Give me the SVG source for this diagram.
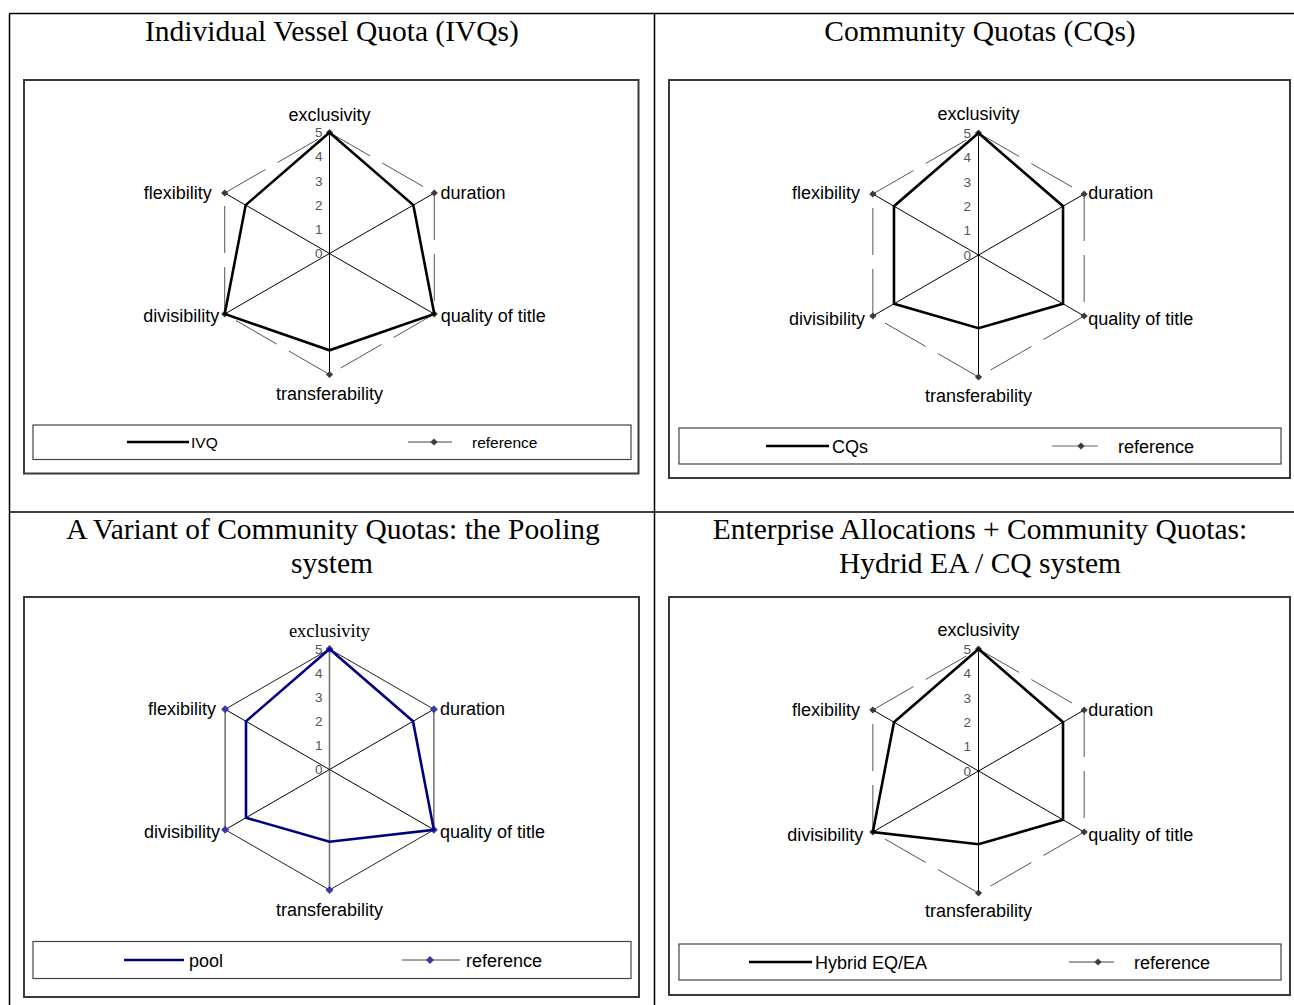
<svg xmlns="http://www.w3.org/2000/svg" width="1294" height="1005" viewBox="0 0 1294 1005">
  <style>
    .title { font-family: "Liberation Serif", "Times New Roman", serif; font-size: 29.5px; text-anchor: middle; fill: #000; }
    .lbl { font-family: "Liberation Sans", Arial, sans-serif; font-size: 18px; fill: #000; }
    .lbl-serif { font-family: "Liberation Serif", "Times New Roman", serif; font-size: 18.5px; fill: #000; }
    .mid { text-anchor: middle; }
    .end { text-anchor: end; }
    .tick { font-family: "Liberation Sans", Arial, sans-serif; font-size: 13.5px; fill: #555; text-anchor: end; }
    .leg { font-family: "Liberation Sans", Arial, sans-serif; font-size: 18px; fill: #000; }
    .leg-sm { font-size: 15.5px; }
    .grid { stroke: #000; stroke-width: 1; fill: none; }
    .table { stroke: #000; stroke-width: 1.5; fill: none; }
    .frame { fill: none; stroke: #3a3a3a; stroke-width: 2; }
    .legbox { fill: none; stroke: #444; stroke-width: 1.2; }
    .ref { stroke: #555; stroke-width: 1; stroke-dasharray: 47 14; fill: none; marker-start: url(#dia); }
    .ref-solid { stroke: #222; stroke-width: 1; fill: none; marker-start: url(#dia-blue); }
    .ref-solid-v { stroke: #777; stroke-width: 1.6; }
    .series { stroke: #000; stroke-width: 2.6; fill: none; stroke-linejoin: miter; }
    .navy { stroke: #000080; }
  </style>
  <defs>
    <marker id="dia" viewBox="-5 -5 10 10" markerWidth="10" markerHeight="10" markerUnits="userSpaceOnUse" refX="0" refY="0" overflow="visible">
      <path d="M0,-3.6 L3.6,0 L0,3.6 L-3.6,0 Z" fill="#3c3c3c" stroke="none"/>
    </marker>
    <marker id="dia-blue" viewBox="-5 -5 10 10" markerWidth="10" markerHeight="10" markerUnits="userSpaceOnUse" refX="0" refY="0" overflow="visible">
      <path d="M0,-4 L4,0 L0,4 L-4,0 Z" fill="#3a3aa8" stroke="none"/>
    </marker>
    <path id="dmk" d="M0,-3.6 L3.6,0 L0,3.6 L-3.6,0 Z" fill="#3c3c3c"/>
    <path id="dmk-blue" d="M0,-4 L4,0 L0,4 L-4,0 Z" fill="#3a3aa8"/>
  </defs>

  <!-- table rules -->
  <g id="table">
    <line class="table" x1="9.5" y1="13.5" x2="1294" y2="13.5"/>
    <line class="table" x1="9.5" y1="13.5" x2="9.5" y2="1005"/>
    <line class="table" x1="654.5" y1="13.5" x2="654.5" y2="1005"/>
    <line class="table" x1="9.5" y1="512" x2="1294" y2="512"/>
  </g>

  <!-- titles -->
  <g id="titles">
    <text class="title" x="332" y="41">Individual Vessel Quota (IVQs)</text>
    <text class="title" x="980" y="41">Community Quotas (CQs)</text>
    <text class="title" x="333" y="539">A Variant of Community Quotas: the Pooling</text>
    <text class="title" x="332" y="573">system</text>
    <text class="title" x="980" y="539">Enterprise Allocations + Community Quotas:</text>
    <text class="title" x="980" y="573">Hydrid EA / CQ system</text>
  </g>

  <!-- IVQ radar chart -->
  <g id="chart-ivq">
    <rect class="frame" x="24" y="80" width="614.5" height="393.5"/>
    <g transform="translate(329.5,253.5)">
      <g class="grid">
        <line x1="0" y1="0" x2="0" y2="-121"/>
        <line x1="0" y1="0" x2="104.79" y2="-60.5"/>
        <line x1="0" y1="0" x2="104.79" y2="60.5"/>
        <line x1="0" y1="0" x2="0" y2="121"/>
        <line x1="0" y1="0" x2="-104.79" y2="60.5"/>
        <line x1="0" y1="0" x2="-104.79" y2="-60.5"/>
      </g>
      <g class="ticks">
        <text class="tick" x="-7" y="-116.3">5</text>
        <text class="tick" x="-7" y="-92.1">4</text>
        <text class="tick" x="-7" y="-67.9">3</text>
        <text class="tick" x="-7" y="-43.7">2</text>
        <text class="tick" x="-7" y="-19.5">1</text>
        <text class="tick" x="-7" y="4.7">0</text>
      </g>
      <g class="reference">
        <line class="ref" x1="0" y1="-121" x2="104.79" y2="-60.5"/>
        <line class="ref" x1="104.79" y1="-60.5" x2="104.79" y2="60.5"/>
        <line class="ref" x1="104.79" y1="60.5" x2="0" y2="121"/>
        <line class="ref" x1="0" y1="121" x2="-104.79" y2="60.5"/>
        <line class="ref" x1="-104.79" y1="60.5" x2="-104.79" y2="-60.5"/>
        <line class="ref" x1="-104.79" y1="-60.5" x2="0" y2="-121"/>
      </g>
      <polygon class="series" points="0,-121 83.83,-48.4 104.79,60.5 0,96.8 -104.79,60.5 -83.83,-48.4"/>
      <text class="lbl mid" x="0" y="-133">exclusivity</text>
      <text class="lbl" x="111" y="-54.7">duration</text>
      <text class="lbl" x="111.2" y="68.2">quality of title</text>
      <text class="lbl mid" x="0" y="146">transferability</text>
      <text class="lbl end" x="-110.2" y="68.2">divisibility</text>
      <text class="lbl end" x="-117.8" y="-54.8">flexibility</text>
    </g>
    <g class="legend">
      <rect class="legbox" x="33" y="425" width="598" height="34.5"/>
      <line x1="127" y1="442" x2="189" y2="442" stroke="#000" stroke-width="2.6"/>
      <text class="leg leg-sm" x="191" y="447.5">IVQ</text>
      <line x1="408" y1="442" x2="452" y2="442" stroke="#444" stroke-width="1"/>
      <use href="#dmk" x="434" y="442"/>
      <text class="leg leg-sm" x="472" y="447.5">reference</text>
    </g>
  </g>

  <!-- CQ radar chart -->
  <g id="chart-cq">
    <rect class="frame" x="669" y="80" width="621" height="398"/>
    <g transform="translate(978.5,255)">
      <g class="grid">
        <line x1="0" y1="0" x2="0" y2="-122"/>
        <line x1="0" y1="0" x2="105.65" y2="-61"/>
        <line x1="0" y1="0" x2="105.65" y2="61"/>
        <line x1="0" y1="0" x2="0" y2="122"/>
        <line x1="0" y1="0" x2="-105.65" y2="61"/>
        <line x1="0" y1="0" x2="-105.65" y2="-61"/>
      </g>
      <g class="ticks">
        <text class="tick" x="-7.5" y="-117.3">5</text>
        <text class="tick" x="-7.5" y="-92.9">4</text>
        <text class="tick" x="-7.5" y="-68.5">3</text>
        <text class="tick" x="-7.5" y="-44.1">2</text>
        <text class="tick" x="-7.5" y="-19.7">1</text>
        <text class="tick" x="-7.5" y="4.7">0</text>
      </g>
      <g class="reference">
        <line class="ref" x1="0" y1="-122" x2="105.65" y2="-61"/>
        <line class="ref" x1="105.65" y1="-61" x2="105.65" y2="61"/>
        <line class="ref" x1="105.65" y1="61" x2="0" y2="122"/>
        <line class="ref" x1="0" y1="122" x2="-105.65" y2="61"/>
        <line class="ref" x1="-105.65" y1="61" x2="-105.65" y2="-61"/>
        <line class="ref" x1="-105.65" y1="-61" x2="0" y2="-122"/>
      </g>
      <polygon class="series" points="0,-122 84.52,-48.8 84.52,48.8 0,73.2 -84.52,48.8 -84.52,-48.8"/>
      <text class="lbl mid" x="0" y="-135">exclusivity</text>
      <text class="lbl" x="109.8" y="-56">duration</text>
      <text class="lbl" x="109.8" y="69.5">quality of title</text>
      <text class="lbl mid" x="0" y="146.5">transferability</text>
      <text class="lbl end" x="-113.5" y="69.5">divisibility</text>
      <text class="lbl end" x="-118.5" y="-56">flexibility</text>
    </g>
    <g class="legend">
      <rect class="legbox" x="679" y="428" width="602" height="36"/>
      <line x1="766" y1="446" x2="829" y2="446" stroke="#000" stroke-width="2.6"/>
      <text class="leg" x="832" y="452.5">CQs</text>
      <line x1="1052" y1="446" x2="1098" y2="446" stroke="#999" stroke-width="1.3"/>
      <use href="#dmk" x="1081" y="446"/>
      <text class="leg" x="1118" y="452.5">reference</text>
    </g>
  </g>

  <!-- Pooling radar chart -->
  <g id="chart-pool">
    <rect class="frame" x="24" y="597" width="615" height="400"/>
    <g transform="translate(329.5,769.5)">
      <g class="grid">
        <line x1="0" y1="0" x2="0" y2="-120.5" class="ref-solid-v"/>
        <line x1="0" y1="0" x2="104.36" y2="-60.25"/>
        <line x1="0" y1="0" x2="104.36" y2="60.25"/>
        <line x1="0" y1="0" x2="0" y2="120.5" class="ref-solid-v"/>
        <line x1="0" y1="0" x2="-104.36" y2="60.25"/>
        <line x1="0" y1="0" x2="-104.36" y2="-60.25"/>
      </g>
      <g class="ticks">
        <text class="tick" x="-7" y="-115.8">5</text>
        <text class="tick" x="-7" y="-91.7">4</text>
        <text class="tick" x="-7" y="-67.6">3</text>
        <text class="tick" x="-7" y="-43.5">2</text>
        <text class="tick" x="-7" y="-19.4">1</text>
        <text class="tick" x="-7" y="4.7">0</text>
      </g>
      <g class="reference">
        <line class="ref-solid" x1="0" y1="-120.5" x2="104.36" y2="-60.25"/>
        <line class="ref-solid ref-solid-v" x1="104.36" y1="-60.25" x2="104.36" y2="60.25"/>
        <line class="ref-solid" x1="104.36" y1="60.25" x2="0" y2="120.5"/>
        <line class="ref-solid" x1="0" y1="120.5" x2="-104.36" y2="60.25"/>
        <line class="ref-solid ref-solid-v" x1="-104.36" y1="60.25" x2="-104.36" y2="-60.25"/>
        <line class="ref-solid" x1="-104.36" y1="-60.25" x2="0" y2="-120.5"/>
      </g>
      <polygon class="series navy" points="0,-120.5 83.49,-48.2 104.36,60.25 0,72.3 -83.49,48.2 -83.49,-48.2"/>
      <text class="lbl-serif mid" x="0" y="-132.8">exclusivity</text>
      <text class="lbl" x="110.5" y="-54.5">duration</text>
      <text class="lbl" x="110.5" y="68.8">quality of title</text>
      <text class="lbl mid" x="0" y="146.5">transferability</text>
      <text class="lbl end" x="-109.5" y="68.8">divisibility</text>
      <text class="lbl end" x="-113.5" y="-54.5">flexibility</text>
    </g>
    <g class="legend">
      <rect class="legbox" x="33" y="941.5" width="598" height="37"/>
      <line x1="124" y1="960" x2="184" y2="960" stroke="#000080" stroke-width="2.6"/>
      <text class="leg" x="189" y="966.5">pool</text>
      <line x1="402" y1="960" x2="460" y2="960" stroke="#444" stroke-width="1"/>
      <use href="#dmk-blue" x="430" y="960"/>
      <text class="leg" x="466" y="966.5">reference</text>
    </g>
  </g>

  <!-- Hybrid EA / CQ radar chart -->
  <g id="chart-hybrid">
    <rect class="frame" x="669" y="597" width="621" height="398"/>
    <g transform="translate(978.5,771)">
      <g class="grid">
        <line x1="0" y1="0" x2="0" y2="-122"/>
        <line x1="0" y1="0" x2="105.65" y2="-61"/>
        <line x1="0" y1="0" x2="105.65" y2="61"/>
        <line x1="0" y1="0" x2="0" y2="122"/>
        <line x1="0" y1="0" x2="-105.65" y2="61"/>
        <line x1="0" y1="0" x2="-105.65" y2="-61"/>
      </g>
      <g class="ticks">
        <text class="tick" x="-7.5" y="-117.3">5</text>
        <text class="tick" x="-7.5" y="-92.9">4</text>
        <text class="tick" x="-7.5" y="-68.5">3</text>
        <text class="tick" x="-7.5" y="-44.1">2</text>
        <text class="tick" x="-7.5" y="-19.7">1</text>
        <text class="tick" x="-7.5" y="4.7">0</text>
      </g>
      <g class="reference">
        <line class="ref" x1="0" y1="-122" x2="105.65" y2="-61"/>
        <line class="ref" x1="105.65" y1="-61" x2="105.65" y2="61"/>
        <line class="ref" x1="105.65" y1="61" x2="0" y2="122"/>
        <line class="ref" x1="0" y1="122" x2="-105.65" y2="61"/>
        <line class="ref" x1="-105.65" y1="61" x2="-105.65" y2="-61"/>
        <line class="ref" x1="-105.65" y1="-61" x2="0" y2="-122"/>
      </g>
      <polygon class="series" points="0,-122 84.52,-48.8 84.52,48.8 0,73.2 -105.65,61 -84.52,-48.8"/>
      <text class="lbl mid" x="0" y="-135.3">exclusivity</text>
      <text class="lbl" x="109.8" y="-55">duration</text>
      <text class="lbl" x="109.8" y="70">quality of title</text>
      <text class="lbl mid" x="0" y="145.7">transferability</text>
      <text class="lbl end" x="-115.2" y="70">divisibility</text>
      <text class="lbl end" x="-118.5" y="-55">flexibility</text>
    </g>
    <g class="legend">
      <rect class="legbox" x="679" y="944" width="602" height="36"/>
      <line x1="749" y1="962" x2="812" y2="962" stroke="#000" stroke-width="2.6"/>
      <text class="leg" x="815" y="968.5">Hybrid EQ/EA</text>
      <line x1="1069" y1="962" x2="1114" y2="962" stroke="#444" stroke-width="1"/>
      <use href="#dmk" x="1098" y="962"/>
      <text class="leg" x="1134" y="968.5">reference</text>
    </g>
  </g>
</svg>
